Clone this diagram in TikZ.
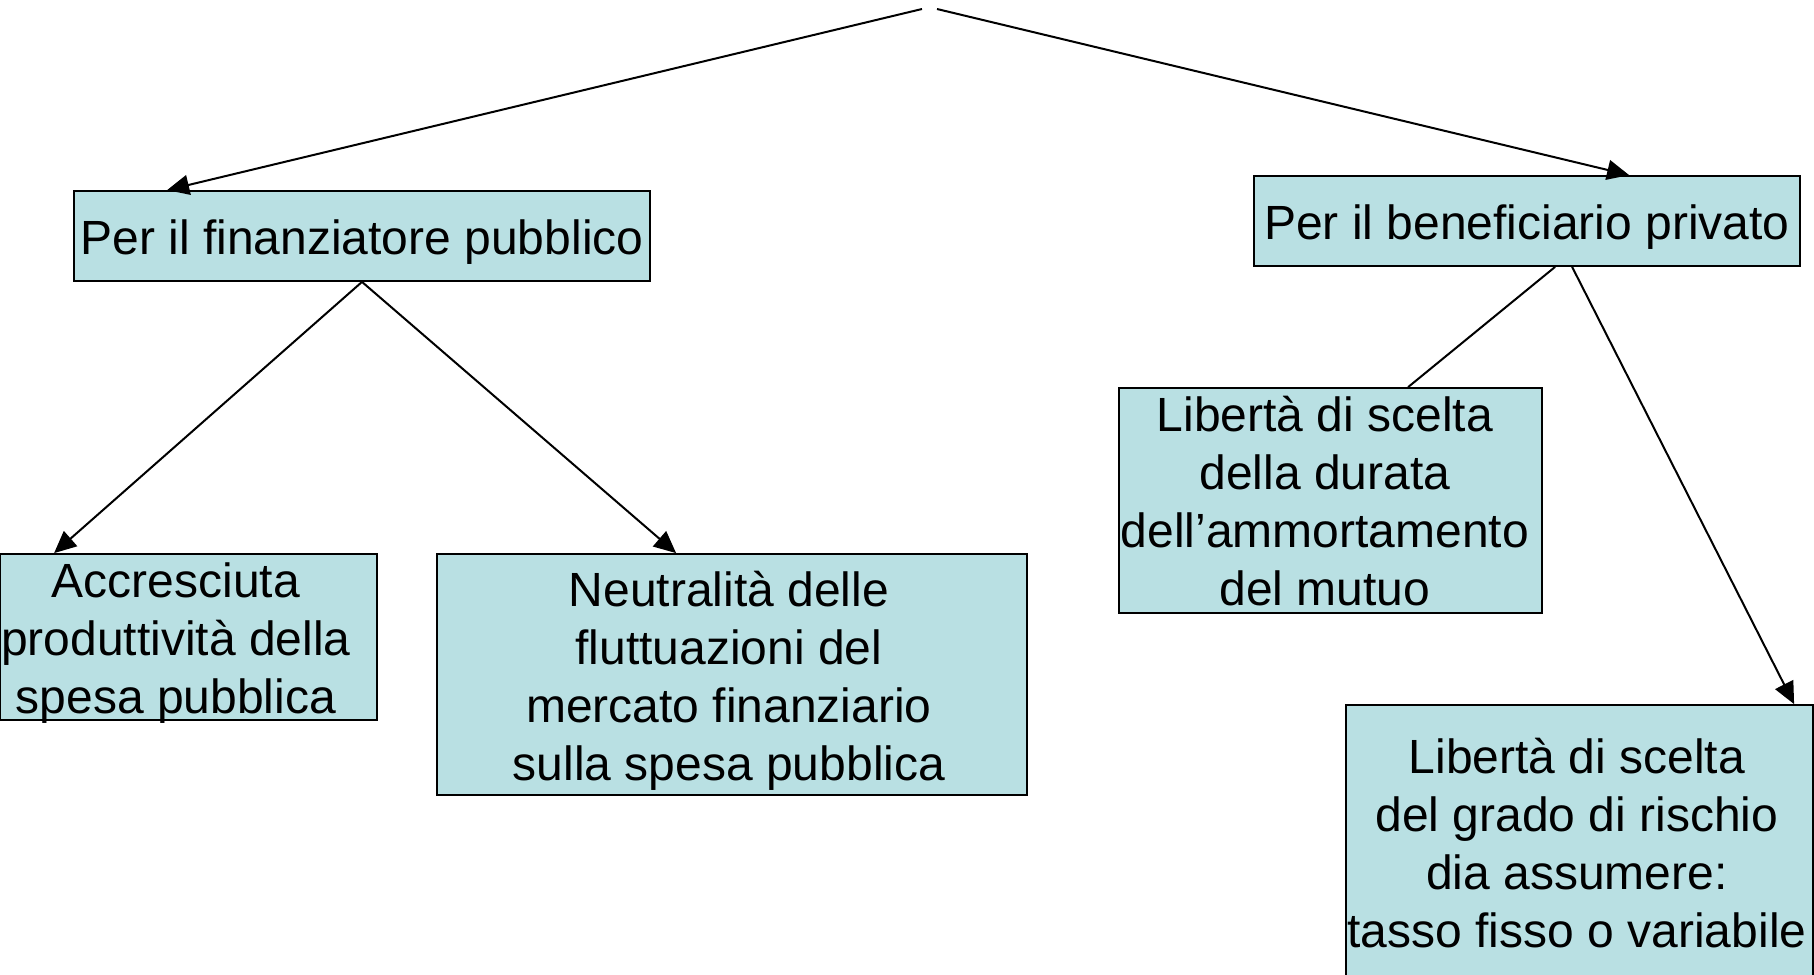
\documentclass[tikz,border=0pt]{standalone}
\usepackage{fontspec}
\setmainfont{Liberation Sans}
\usetikzlibrary{arrows.meta,calc}
\definecolor{boxfill}{RGB}{185,224,227}
\begin{document}
\begin{tikzpicture}[x=0.5pt,y=-0.5pt,
  box/.style={draw=black, line width=0.9pt, fill=boxfill, inner sep=0pt},
  txt/.style={font=\fontsize{24}{29}\selectfont, align=center, inner sep=0pt},
  link/.style={line width=1pt},
  arr/.style={link, -{Triangle[length=11pt,width=10pt]}}
]
\useasboundingbox (0,0) rectangle (1814,974);
\clip (0,0) rectangle (1814,974);

\node[box, minimum width=288pt, minimum height=45pt] (b1) at (362,236) {};
\node[box, minimum width=273pt, minimum height=45pt] (b2) at (1527,221) {};
\node[box, minimum width=188.5pt, minimum height=83pt] (b3) at (188.5,637) {};
\node[box, minimum width=295pt, minimum height=120.5pt] (b4) at (732,674.5) {};
\node[box, minimum width=211.5pt, minimum height=112.5pt] (b5) at (1330.5,500.5) {};
\node[box, minimum width=233.5pt, minimum height=147.5pt] (b6) at (1579.5,852.5) {};

\node[txt] (t1) at (362,242) {Per il finanziatore pubblico};
\node[txt] (t2) at (1527,227) {Per il beneficiario privato};
\node[txt] (t3) at (176,643) {Accresciuta\\produttività della\\spesa pubblica};
\node[txt] (t4) at (729,681) {Neutralità delle\\fluttuazioni del\\mercato finanziario\\sulla spesa pubblica};
\node[txt] (t5) at (1325,501) {Libertà di scelta\\della durata\\dell’ammortamento\\del mutuo};
\node[txt] (t6) at (1577,843) {Libertà di scelta\\del grado di rischio\\dia assumere:\\tasso fisso o variabile};

\coordinate (apL) at (922,9);
\coordinate (apR) at (937,9);

\draw[arr] (apL) -- ([xshift=47pt]b1.north west);
\draw[arr] (apR) -- ([xshift=188pt]b2.north west);
\draw[arr] (b1.south) -- ([xshift=27.5pt]b3.north west);
\draw[arr] (b1.south) -- ([xshift=120pt]b4.north west);
\draw[link] ([xshift=151pt]b2.south west) -- ([xshift=145pt]b5.north west);
\draw[arr] ([xshift=159.5pt]b2.south west) -- ([xshift=224.5pt]b6.north west);
\end{tikzpicture}
\end{document}
